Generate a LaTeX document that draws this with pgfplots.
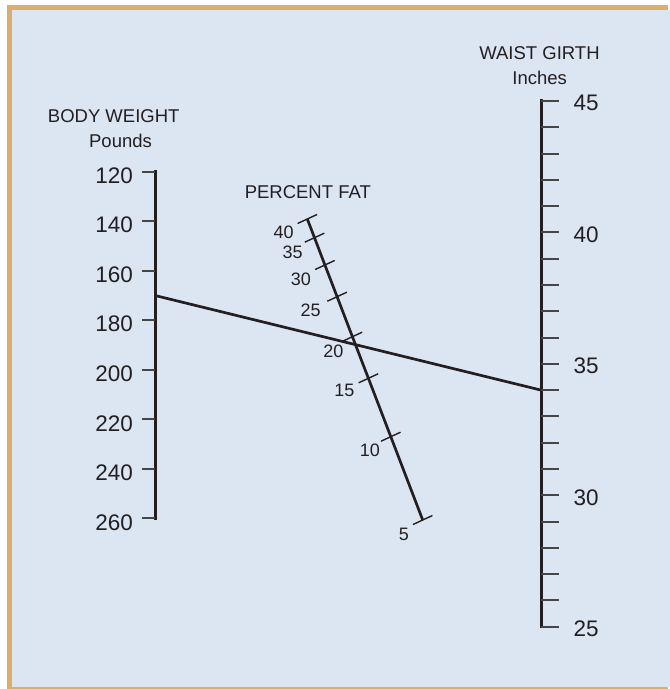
\documentclass[border=0pt]{standalone}
\usepackage{pgfplots}
\pgfplotsset{compat=1.18}
\usepackage{pgfplotstable}
\usepackage{fontspec}
\setmainfont{Liberation Sans}
\definecolor{bgblue}{HTML}{DCE6F3}
\definecolor{frametan}{HTML}{D9AE6E}
\definecolor{ink}{HTML}{231F20}
\definecolor{tickgray}{HTML}{464646}

% Body weight scale (pounds)
\pgfplotstableread{
w lab
120 120
140 140
160 160
180 180
200 200
220 220
240 240
260 260
}\weightscale

% Waist girth scale (inches), one tick per inch
\pgfplotstableread{
g lab
25 25
26 {}
27 {}
28 {}
29 {}
30 30
31 {}
32 {}
33 {}
34 {}
35 35
36 {}
37 {}
38 {}
39 {}
40 40
41 {}
42 {}
43 {}
44 {}
45 45
}\girthscale

% Percent fat scale (non-linear, slanted): tick position and label position
\pgfplotstableread{
pct x y lx ly
40 307.3 219.0 283.7 232.7
35 314.5 237.7 292.7 252.7
30 324.9 265.0 301.0 279.3
25 337.1 296.7 310.7 310.0
20 352.4 336.7 333.3 351.7
15 368.4 378.3 344.3 390.7
10 390.8 436.7 370.0 450.0
5 422.7 520.0 404.0 534.0
}\fatscale

\begin{document}
\begin{tikzpicture}
\fill[white] (0,0) rectangle (670bp,689bp);
\fill[frametan] (7bp,0) rectangle (668bp,684bp);
\fill[bgblue] (12bp,2bp) rectangle (670bp,679bp);
\begin{axis}[at={(0,0)}, anchor=south west,
  width=670bp, height=689bp, scale only axis,
  xmin=0, xmax=670, ymin=0, ymax=689, y dir=reverse,
  hide axis, clip=false]

% ---- Body weight scale ----
\addplot[ink, line width=3bp, line cap=rect]
  table[x expr=155, y expr={171.7+(\thisrow{w}-120)*2.4757}]{\weightscale};
\addplot[tickgray, line width=2bp, quiver={u=-13.3, v=0}, -]
  table[x expr=155, y expr={171.7+(\thisrow{w}-120)*2.4757}]{\weightscale};
\addplot[draw=none, point meta=explicit symbolic,
  nodes near coords={\pgfplotspointmeta},
  every node near coord/.style={anchor=east, inner sep=0pt, text=ink,
     font=\fontsize{22.5bp}{24bp}\selectfont}]
  table[x expr=133, y expr={175.7+(\thisrow{w}-120)*2.4757}, meta=lab]{\weightscale};

% ---- Waist girth scale ----
\addplot[ink, line width=3bp, line cap=rect]
  table[x expr=541, y expr={101+(45-\thisrow{g})*26.285}]{\girthscale};
\addplot[tickgray, line width=2bp, quiver={u=18.3, v=0}, -]
  table[x expr=541, y expr={101+(45-\thisrow{g})*26.285}]{\girthscale};
\addplot[draw=none, point meta=explicit symbolic,
  nodes near coords={\pgfplotspointmeta},
  every node near coord/.style={anchor=west, inner sep=0pt, text=ink,
     font=\fontsize{22.5bp}{24bp}\selectfont}]
  table[x expr=573.3, y expr={103+(45-\thisrow{g})*26.285}, meta=lab]{\girthscale};

% ---- Percent fat scale ----
\addplot[ink, line width=2.7bp] table[x=x, y=y]{\fatscale};
\addplot[ink, line width=1.4bp, quiver={u=19.5, v=-9}, -]
  table[x expr={\thisrow{x}-9.75}, y expr={\thisrow{y}+4.5}]{\fatscale};
\addplot[draw=none, point meta=explicit symbolic,
  nodes near coords={\pgfplotspointmeta},
  every node near coord/.style={anchor=center, inner sep=0pt, text=ink,
     font=\fontsize{18bp}{20bp}\selectfont}]
  table[x=lx, y=ly, meta=pct]{\fatscale};

% ---- Example reading: 170 lb, 34 in ----
\addplot[ink, line width=2.7bp] coordinates {(155,295.5) (541,390.1)};

% ---- Titles ----
\node[text=ink, inner sep=0pt, font=\fontsize{18.5bp}{20bp}\selectfont] at (axis cs:113.7,116) {BODY WEIGHT};
\node[text=ink, inner sep=0pt, font=\fontsize{18.5bp}{20bp}\selectfont] at (axis cs:120.5,140.7) {Pounds};
\node[text=ink, inner sep=0pt, font=\fontsize{18.5bp}{20bp}\selectfont] at (axis cs:307.8,191.7) {PERCENT FAT};
\node[text=ink, inner sep=0pt, font=\fontsize{18.5bp}{20bp}\selectfont] at (axis cs:539.5,52.7) {WAIST GIRTH};
\node[text=ink, inner sep=0pt, font=\fontsize{18.5bp}{20bp}\selectfont] at (axis cs:539.7,77.7) {Inches};
\end{axis}
\end{tikzpicture}
\end{document}
